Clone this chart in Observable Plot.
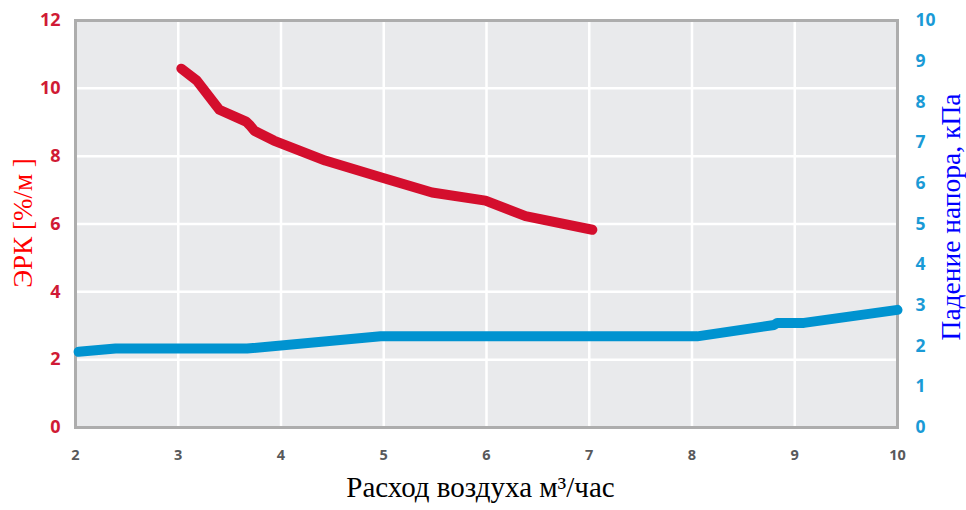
<!DOCTYPE html>
<html>
<head>
<meta charset="utf-8">
<script src="https://cdn.jsdelivr.net/npm/d3@7"></script>
<script src="https://cdn.jsdelivr.net/npm/@observablehq/plot@0.6"></script>
<style>
  body { margin: 0; background: white; }
</style>
</head>
<body>
<div id="chart"></div>
<script>
// ЭРК (left axis, %/м)
const ercX = [3.03, 3.18, 3.40, 3.66, 3.70, 3.74, 3.93, 4.43, 4.97, 5.47, 5.99, 6.38, 7.03];
const ercY = [10.58, 10.23, 9.37, 9.02, 8.90, 8.75, 8.46, 7.87, 7.38, 6.93, 6.69, 6.23, 5.83];
// Падение напора (right axis, кПа)
const dpX = [2.03, 2.39, 3.67, 4.97, 8.05, 8.80, 8.83, 9.09, 10.0];
const dpY = [1.86, 1.94, 1.94, 2.24, 2.24, 2.52, 2.57, 2.57, 2.89];

const xTicks = [2, 3, 4, 5, 6, 7, 8, 9, 10];
const leftTicks = [0, 2, 4, 6, 8, 10, 12];
const rightTicks = [0, 1, 2, 3, 4, 5, 6, 7, 8, 9, 10];

const xTitle = "Расход воздуха м³/час";
const leftTitle = "ЭРК [%/м ]";
const rightTitle = "Падение напора, кПа";

const k = 12 / 10; // right axis -> left axis scale
const erc = ercX.map((x, i) => ({x, y: ercY[i]}));
const dp = dpX.map((x, i) => ({x, y: dpY[i] * k}));

const chart = Plot.plot({
  width: 966,
  height: 510,
  marginLeft: 75,
  marginRight: 69,
  marginTop: 20,
  marginBottom: 83,
  style: {fontFamily: "'Open Sans', sans-serif", background: "white"},
  x: {domain: [2, 10]},
  y: {domain: [0, 12]},
  marks: [
    Plot.frame({fill: "#E9EAEC"}),
    Plot.gridX([3, 4, 5, 6, 7, 8, 9], {stroke: "white", strokeOpacity: 1, strokeWidth: 2.5}),
    Plot.gridY([2, 4, 6, 8, 10], {stroke: "white", strokeOpacity: 1, strokeWidth: 2.5}),
    Plot.frame({stroke: "#ADADAD", strokeWidth: 3}),
    Plot.axisX(xTicks, {tickSize: 0, tickPadding: 22, fontSize: 14.5, fontWeight: "bold", fill: "#58595B", label: null}),
    Plot.axisY(leftTicks, {anchor: "left", tickSize: 0, tickPadding: 15, fontSize: 18, fontWeight: "bold", fill: "#D01A35", label: null}),
    Plot.axisY(rightTicks.map(t => t * k), {anchor: "right", tickSize: 0, tickPadding: 18, fontSize: 17.5, fontWeight: "bold", fill: "#1A9AD6", tickFormat: d => String(Math.round(d / k)), label: null}),
    Plot.line(dp, {x: "x", y: "y", stroke: "#0093D0", strokeWidth: 10, strokeLinecap: "round", strokeLinejoin: "round"}),
    Plot.line(erc, {x: "x", y: "y", stroke: "#D40E2D", strokeWidth: 10, strokeLinecap: "round", strokeLinejoin: "round"}),
    Plot.text([xTitle], {frameAnchor: "bottom", textAnchor: "middle", dx: -6, dy: 69, fontFamily: "'Liberation Serif', serif", fontSize: 29, fill: "black"}),
    Plot.text([leftTitle], {frameAnchor: "left", textAnchor: "middle", rotate: -90, dx: -52, dy: -1, fontFamily: "'Liberation Serif', serif", fontSize: 27, fill: "#FF0000"}),
    Plot.text([rightTitle], {frameAnchor: "right", textAnchor: "middle", rotate: -90, dx: 54, dy: -7, fontFamily: "'Liberation Serif', serif", fontSize: 27.5, fill: "#0000FF"})
  ]
});
document.getElementById("chart").appendChild(chart);
</script>
</body>
</html>
